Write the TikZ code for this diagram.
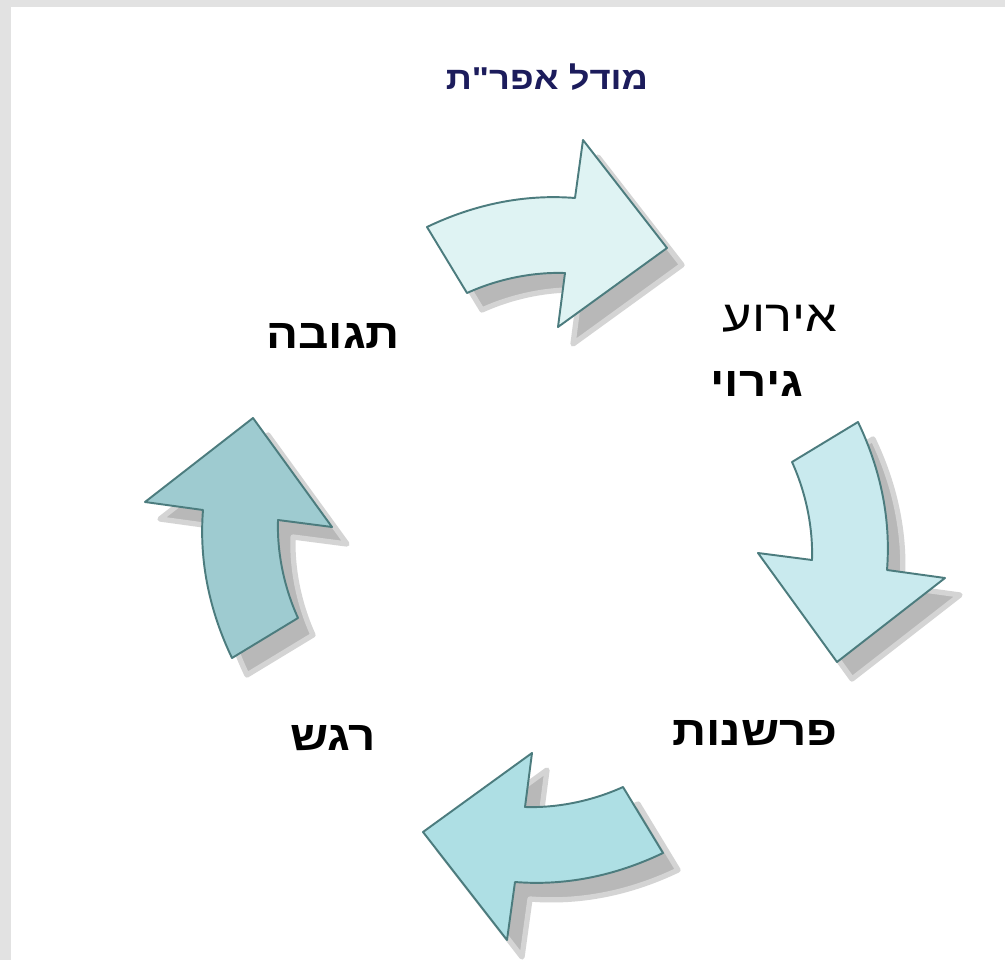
\documentclass[tikz,border=0pt]{standalone}
\usepackage{fontspec}
\usepackage{tikz}
\usetikzlibrary{positioning}
\TeXXeTstate=1
\newfontfamily\hebfont[Script=Hebrew, FakeStretch=1.15]{Liberation Sans}
\definecolor{FrameGray}{HTML}{E2E2E2}
\definecolor{TitleNavy}{HTML}{1C1C5C}
\definecolor{ArrowLine}{HTML}{4C7C7E}
\definecolor{ArrowOne}{HTML}{DFF3F3}
\definecolor{ArrowTwo}{HTML}{C9EAEE}
\definecolor{ArrowThree}{HTML}{AEDFE4}
\definecolor{ArrowFour}{HTML}{9ECBD0}
\definecolor{ShadowGray}{HTML}{B8B8B8}

\begin{document}
\begin{tikzpicture}[
    x=0.02cm, y=-0.02cm,
    blockarrow/.style={draw=ArrowLine, line width=1.1pt, line join=round},
    arrowshadow/.style={fill=ShadowGray, draw=ShadowGray!60, line width=3pt, line join=round},
    steplabel/.style={font=\hebfont\bfseries\fontsize{23.5}{26}\selectfont, inner sep=0pt},
    titlelabel/.style={font=\hebfont\bfseries\fontsize{18}{21}\selectfont, text=TitleNavy, inner sep=0pt}
]
    % Frame
    \fill[FrameGray] (0,0) rectangle (1005,960);
    \fill[white] (11,7) rectangle (1005,960);
    \useasboundingbox (0,0) rectangle (1005,960);

    % Cycle arrows - one outline turned round the centre
    \begin{scope}[shift={(545,540)}]
        \foreach \ang/\col in {0/ArrowOne, -90/ArrowTwo, 180/ArrowThree, 90/ArrowFour}{
            \path[arrowshadow, shift={(15,17)}, rotate=\ang]
                (-118,-313) .. controls (-70,-336) and (-20,-346) .. (30,-342)
                -- (38,-400) -- (122,-292) -- (13,-213) -- (20,-267)
                .. controls (-10,-268) and (-45,-262) .. (-78,-247) -- cycle;
            \path[blockarrow, fill=\col, rotate=\ang]
                (-118,-313) .. controls (-70,-336) and (-20,-346) .. (30,-342)
                -- (38,-400) -- (122,-292) -- (13,-213) -- (20,-267)
                .. controls (-10,-268) and (-45,-262) .. (-78,-247) -- cycle;
        }
    \end{scope}

    % Title
    \node[titlelabel] (title) at (547,77) {\beginR מודל אפר"ת\endR};

    % Steps of the cycle
    \node[steplabel, font=\hebfont\fontsize{25}{28}\selectfont] (event) at (780,319) {\beginR אירוע\endR};
    \node[steplabel] (trigger) at (757,384) {\beginR גירוי\endR};
    \node[steplabel] (reading) at (755,733) {\beginR פרשנות\endR};
    \node[steplabel] (feeling) at (333,738) {\beginR רגש\endR};
    \node[steplabel] (answer) at (333,336) {\beginR תגובה\endR};
\end{tikzpicture}
\end{document}
